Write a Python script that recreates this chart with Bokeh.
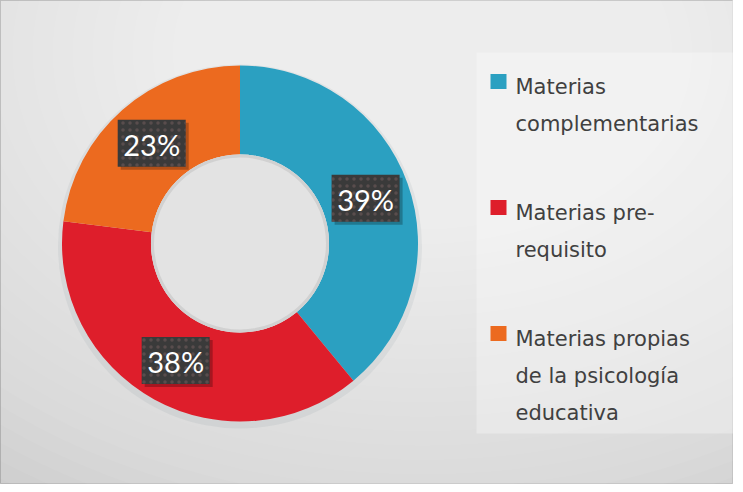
import numpy as np
from bokeh.plotting import figure
from bokeh.models import Range1d, ColumnDataSource
from bokeh.core.properties import value
from bokeh.embed import file_html
from bokeh.resources import INLINE

# ---- data ----
categories = ["Materias complementarias", "Materias pre-requisito",
              "Materias propias de la psicología educativa"]
legend_lines = [["Materias", "complementarias"],
                ["Materias pre-", "requisito"],
                ["Materias propias", "de la psicología", "educativa"]]
values = [39, 38, 23]
pct_labels = ["39%", "38%", "23%"]
colors = ["#2BA0C1", "#DE1E2B", "#EC6A1F"]

# ---- canvas: 1 data unit == 1 px ----
W, H = 733, 484
def X(sx):
    return sx - 8
def Y(sy):
    return H + 8 - sy

p = figure(width=W, height=H, x_range=Range1d(0, W), y_range=Range1d(0, H),
           output_backend="svg", toolbar_location=None, min_border=0,
           x_axis_location=None, y_axis_location=None)
p.grid.visible = False
p.background_fill_color = "#c6c6c6"
p.border_fill_color = "#c6c6c6"
p.outline_line_color = "#a9a9a9"

# background radial gradient (stacked translucent ellipses)
n = 40
k = np.arange(n)
p.ellipse(x=[X(430)] * n, y=[Y(60)] * n,
          width=list(1600 * (1 - k / n) + 20), height=list(1150 * (1 - k / n) + 10),
          fill_color="white", fill_alpha=0.05, line_color=None)

# donut
cx, cy = X(247.5), Y(251)
r_out, r_in = 178, 89
vals = np.array(values, dtype=float)
frac = vals / vals.sum()
cum = np.concatenate([[0], np.cumsum(frac)])
start = np.pi / 2 - 2 * np.pi * cum[:-1]
end = np.pi / 2 - 2 * np.pi * cum[1:]

# soft shadow
p.circle(x=[cx], y=[cy - 3], radius=r_out + 4, fill_color="#506070", fill_alpha=0.08, line_color=None)
src = ColumnDataSource(dict(start=list(start), end=list(end), color=colors, cat=categories))
p.annular_wedge(x=cx, y=cy, inner_radius=r_in, outer_radius=r_out,
                start_angle="start", end_angle="end", direction="clock",
                fill_color="color", line_color=None, source=src)
# inner hole
p.circle(x=[cx], y=[cy], radius=r_in, fill_color="#e3e3e3", line_color=None)
p.circle(x=[cx], y=[cy], radius=r_in - 1.5, fill_color=None, line_color="#c9c9c9",
         line_alpha=0.7, line_width=3)

# percentage labels
mid = (start + end) / 2
r_mid = (r_in + r_out) / 2
lx = cx + r_mid * np.cos(mid)
ly = cy + r_mid * np.sin(mid)
p.rect(x=list(lx + 3), y=list(ly - 3), width=68, height=47,
       fill_color="black", fill_alpha=0.25, line_color=None)
p.rect(x=list(lx), y=list(ly), width=68, height=47,
       fill_color="#3a3a3a", line_color=None,
       hatch_pattern="dot", hatch_color="#6e5a5a", hatch_alpha=0.6, hatch_scale=7)
p.text(x=list(lx), y=list(ly - 1), text=pct_labels, text_color="white",
       text_font=value("Lato"), text_font_size="29px",
       text_align="center", text_baseline="middle")

# legend
p.quad(left=X(484), right=X(741), top=Y(60), bottom=Y(441),
       fill_color="white", fill_alpha=0.3, line_color=None)
line_h = 37
item_first = [94, 220, 346]
sq_x, sq_y, tx, ty, tt = [], [], [], [], []
for i, lines in enumerate(legend_lines):
    sq_x.append(X(506))
    sq_y.append(Y(item_first[i] - 5))
    for j, t in enumerate(lines):
        tx.append(X(523))
        ty.append(Y(item_first[i] + j * line_h))
        tt.append(t)
p.rect(x=sq_x, y=sq_y, width=16, height=15, fill_color=colors, line_color=None)
p.text(x=tx, y=ty, text=tt, text_color="#404040", text_font=value("DejaVu Sans"),
       text_font_size="21px", text_align="left", text_baseline="alphabetic")

open("out.html", "w").write(file_html(p, INLINE))
